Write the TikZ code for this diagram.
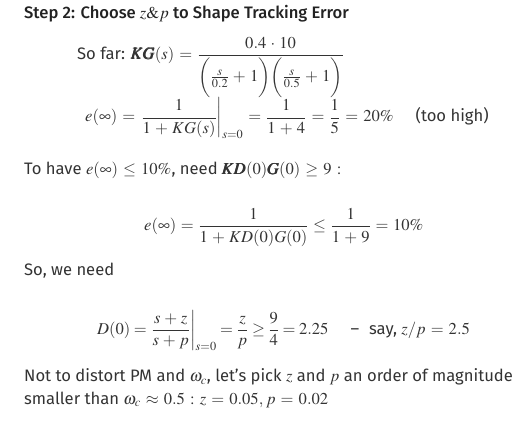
\documentclass[tikz,border=0pt]{standalone}
\usepackage{amsmath}
\usepackage{mathptmx}
\usepackage[no-math]{fontspec}
\setmainfont{Fira Sans}[BoldFont={Fira Sans Medium}]
\usetikzlibrary{positioning}
\definecolor{bodytext}{HTML}{333333}
\definecolor{titletext}{HTML}{222222}
% a little wider math spacing, as in the slide
\thinmuskip=3mu
\medmuskip=4.5mu plus 2mu minus 2mu
\thickmuskip=5.5mu plus 5mu
\begin{document}
\begin{tikzpicture}[x=1pt,y=-1pt,
    txt/.style={anchor=base west, inner sep=0pt, text=bodytext, font=\fontsize{16.6}{20}\selectfont},
    ttl/.style={txt, text=titletext, font=\fontsize{16.6}{20}\selectfont\bfseries}]
  \useasboundingbox (0,0) rectangle (522,422);

  % Title
  \node[ttl] (title) at (24,18.5) {Step 2: Choose $z\&p$ to Shape Tracking Error};

  % Loop gain so far
  \node[txt] (sofar) at (77,59.3) {So far: $\displaystyle \pmb{KG}(s) = \frac{0.4\cdot 10}{\biggl(\frac{s}{0.2}+1\biggr)\biggl(\frac{s}{0.5}+1\biggr)}$};
  \node[txt] (errnow) at (85,122) {$\displaystyle e(\infty) = \left.\frac{1}{1+KG(s)}\right|_{s=0} = \frac{1}{1+4} = \frac{1}{5} = 20\%$\hspace{22pt}(too high)};

  % Requirement
  \node[txt] (need) at (24,175) {To have $e(\infty)\le 10\%$, need $\pmb{K}\pmb{D}(0)\pmb{G}(0)\ge 9:$};
  \node[txt] (errgoal) at (144,230.7) {$\displaystyle\thickmuskip=5mu e(\infty) = \frac{1}{1+KD(0)G(0)} \le \frac{1}{1+9} = 10\%$};

  % Lead/lag ratio
  \node[txt] (sowe) at (24,275) {So, we need};
  \node[txt] (dzero) at (97,334.3) {$\displaystyle\thickmuskip=3.8mu\medmuskip=4mu D(0) = \left.\frac{s+z}{s+p}\right|_{s=0} = \frac{z}{p} \ge \frac{9}{4} = 2.25$\hspace{22pt}--\hspace{10pt}say, $z/p = 2.5$};

  % Choice of z and p
  \node[txt] (pick1) at (24,381.7) {Not to distort PM and $\omega_c$, let's pick $z$ and $p$ an order of magnitude};
  \node[txt] (pick2) at (24,404) {smaller than $\omega_c\approx 0.5 : z=0.05, p=0.02$};
\end{tikzpicture}
\end{document}
